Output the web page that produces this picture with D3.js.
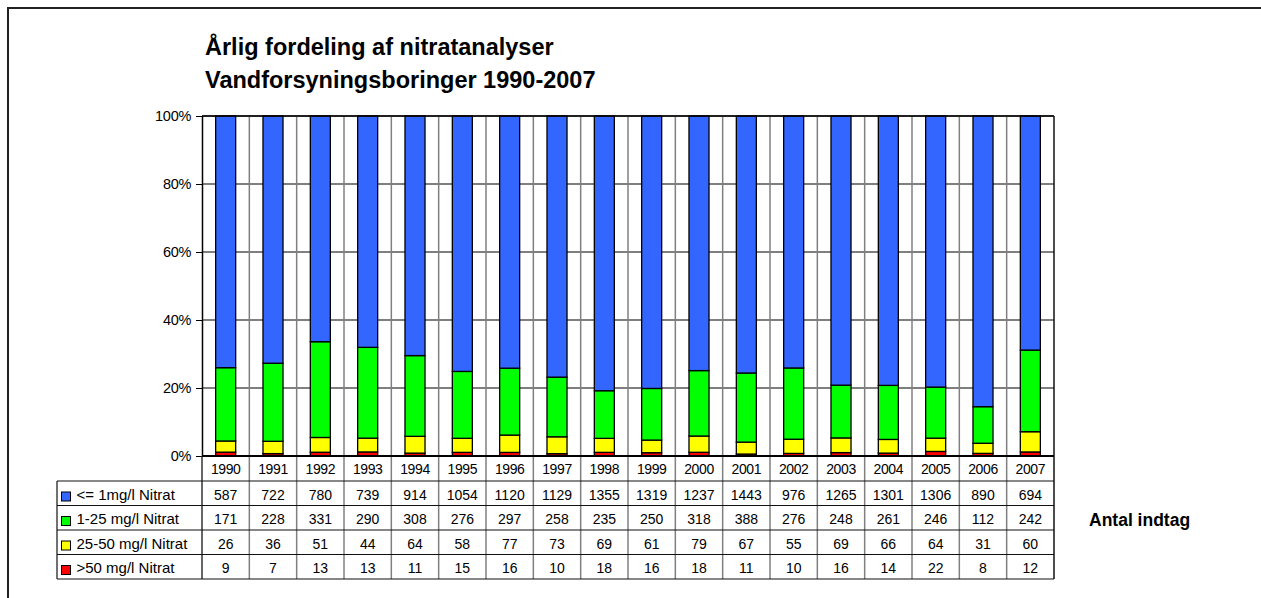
<!DOCTYPE html>
<html>
<head>
<meta charset="utf-8">
<script src="https://cdn.jsdelivr.net/npm/d3@7"></script>
<style>
  body { margin: 0; background: #fff; }
  svg { display: block; font-family: "Liberation Sans", Arial, sans-serif; }
</style>
</head>
<body>
<svg id="chart" width="1261" height="598"></svg>
<script>
// data
const years = ["1990","1991","1992","1993","1994","1995","1996","1997","1998","1999","2000","2001","2002","2003","2004","2005","2006","2007"];
const seriesNames = ["<= 1mg/l Nitrat", "1-25 mg/l Nitrat", "25-50 mg/l Nitrat", ">50 mg/l Nitrat"];
const le1 = [587, 722, 780, 739, 914, 1054, 1120, 1129, 1355, 1319, 1237, 1443, 976, 1265, 1301, 1306, 890, 694];
const r1to25 = [171, 228, 331, 290, 308, 276, 297, 258, 235, 250, 318, 388, 276, 248, 261, 246, 112, 242];
const r25to50 = [26, 36, 51, 44, 64, 58, 77, 73, 69, 61, 79, 67, 55, 69, 66, 64, 31, 60];
const gt50 = [9, 7, 13, 13, 11, 15, 16, 10, 18, 16, 18, 11, 10, 16, 14, 22, 8, 12];
const yTicks = [0, 0.2, 0.4, 0.6, 0.8, 1];
const colors = ["#3366FF", "#00FF00", "#FFFF00", "#FF0000"];

const svg = d3.select("#chart");
const plotL = 202, plotR = 1054, plotT = 116, plotB = 456;
const legendLeft = 57;
const rowH = 24.5, yearRowBottom = 481;

// outer chart border
svg.append("rect").attr("x", 8).attr("y", 8).attr("width", 1300).attr("height", 700)
  .attr("fill", "none").attr("stroke", "#222").attr("stroke-width", 2);

// title
const title = svg.append("text").attr("font-weight", "bold")
  .attr("font-size", 23.5).attr("fill", "#000");
title.append("tspan").attr("x", 205).attr("y", 55).text("Årlig fordeling af nitratanalyser");
title.append("tspan").attr("x", 205).attr("y", 87.5).text("Vandforsyningsboringer 1990-2007");

const cols = d3.scaleBand().domain(years).range([plotL, plotR]);
const x = d3.scaleBand().domain(years).range([plotL, plotR]).paddingInner(0.577).paddingOuter(0.577 / 2);
const y = d3.scaleLinear().domain([0, 1]).range([plotB, plotT]);

// rows keyed by year
const rows = years.map((yr, i) => ({year: yr, s0: le1[i], s1: r1to25[i], s2: r25to50[i], s3: gt50[i]}));
const stack = d3.stack().keys(["s3", "s2", "s1", "s0"]).offset(d3.stackOffsetExpand);
const stacked = stack(rows);

// horizontal gridlines
svg.append("g").selectAll("line").data(yTicks.filter(t => t > 0)).join("line")
  .attr("x1", plotL).attr("x2", plotR)
  .attr("y1", d => y(d)).attr("y2", d => y(d))
  .attr("stroke", "#000").attr("stroke-width", 1.2);

// vertical category separators (plot + table)
const tableBottom = yearRowBottom + rowH * 4;
svg.append("g").selectAll("line").data(years.slice(1)).join("line")
  .attr("x1", d => cols(d)).attr("x2", d => cols(d))
  .attr("y1", plotT).attr("y2", tableBottom)
  .attr("stroke", "#808080").attr("stroke-width", 1.5);

// bars
const colorOf = {s0: colors[0], s1: colors[1], s2: colors[2], s3: colors[3]};
svg.append("g").selectAll("g").data(stacked).join("g")
  .attr("fill", d => colorOf[d.key])
  .selectAll("rect").data(d => d).join("rect")
  .attr("x", d => x(d.data.year))
  .attr("width", x.bandwidth())
  .attr("y", d => y(d[1]))
  .attr("height", d => y(d[0]) - y(d[1]))
  .attr("stroke", "#000").attr("stroke-width", 1.3);

// plot frame: top and right
svg.append("line").attr("x1", plotL).attr("x2", plotR).attr("y1", plotT).attr("y2", plotT)
  .attr("stroke", "#000").attr("stroke-width", 1.5);
svg.append("line").attr("x1", plotR).attr("x2", plotR).attr("y1", plotT).attr("y2", tableBottom)
  .attr("stroke", "#111").attr("stroke-width", 1.5);

// y axis
const yAxis = svg.append("g").attr("transform", `translate(${plotL},0)`)
  .call(d3.axisLeft(y).tickValues(yTicks).tickFormat(d3.format(".0%")).tickSize(6).tickSizeOuter(0));
yAxis.select(".domain").attr("stroke", "#000").attr("stroke-width", 1.5);
yAxis.selectAll(".tick line").attr("stroke", "#000");
yAxis.selectAll("text").attr("font-size", 14.5).attr("font-family", "Liberation Sans, Arial, sans-serif")
  .attr("fill", "#000").attr("x", -11).attr("letter-spacing", -0.3);

// left axis line continues through table
svg.append("line").attr("x1", plotL).attr("x2", plotL).attr("y1", plotB).attr("y2", tableBottom)
  .attr("stroke", "#333").attr("stroke-width", 1.5);
// x baseline
svg.append("line").attr("x1", plotL).attr("x2", plotR).attr("y1", plotB).attr("y2", plotB)
  .attr("stroke", "#000").attr("stroke-width", 2);

// data table
const tbl = svg.append("g").attr("font-size", 14).attr("fill", "#000");
tbl.selectAll("text.yr").data(years).join("text").attr("class", "yr")
  .attr("x", d => cols(d) + cols.bandwidth() / 2).attr("y", plotB + 18)
  .attr("text-anchor", "middle").attr("letter-spacing", -0.4).text(d => d);

const seriesVals = [le1, r1to25, r25to50, gt50];
seriesVals.forEach((vals, r) => {
  const ry = yearRowBottom + r * rowH;
  tbl.append("g").selectAll("text").data(vals).join("text")
    .attr("x", (d, i) => cols(years[i]) + cols.bandwidth() / 2)
    .attr("y", ry + 18.5)
    .attr("text-anchor", "middle").text(d => d);
  // legend key
  tbl.append("rect").attr("x", legendLeft + 4.5).attr("y", ry + 11).attr("width", 9).attr("height", 9)
    .attr("fill", colors[r]).attr("stroke", "#000").attr("stroke-width", 1);
  tbl.append("text").attr("x", legendLeft + 19.5).attr("y", ry + 18.5).attr("font-size", 15)
    .text(seriesNames[r]);
});

// table horizontal lines
const hl = d3.range(5).map(i => yearRowBottom + i * rowH);
svg.append("g").selectAll("line").data(hl).join("line")
  .attr("x1", legendLeft).attr("x2", plotR)
  .attr("y1", d => d).attr("y2", d => d)
  .attr("stroke", "#111").attr("stroke-width", 1.2);
svg.append("line").attr("x1", legendLeft).attr("x2", legendLeft)
  .attr("y1", yearRowBottom).attr("y2", tableBottom)
  .attr("stroke", "#111").attr("stroke-width", 1.2);

svg.append("text").attr("x", 1089).attr("y", 525.5).attr("font-size", 17.5).attr("font-weight", "bold")
  .text("Antal indtag");
</script>
</body>
</html>
